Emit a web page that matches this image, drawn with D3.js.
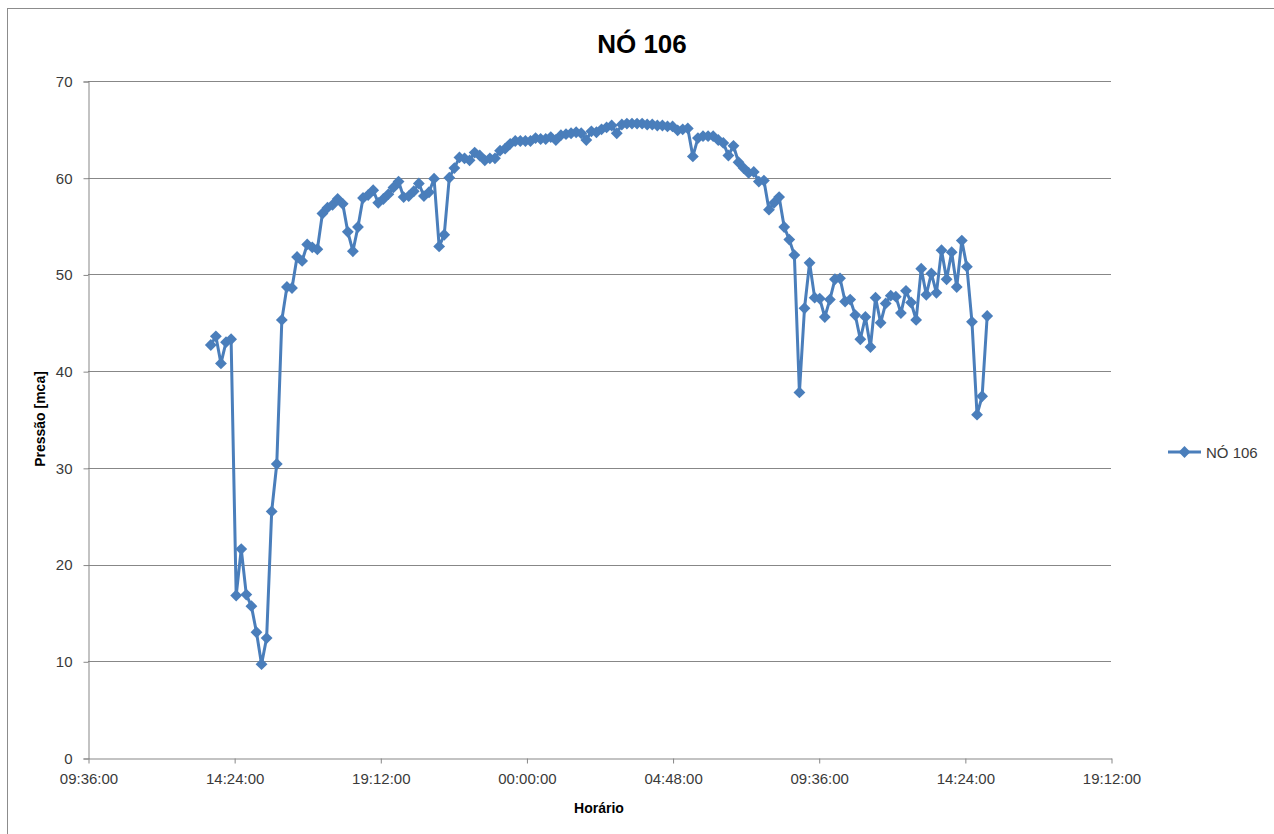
<!DOCTYPE html>
<html>
<head>
<meta charset="utf-8">
<script src="https://cdn.jsdelivr.net/npm/d3@7"></script>
<style>
  html, body { margin: 0; padding: 0; background: #ffffff; }
  svg { display: block; }
  text { font-family: "Liberation Sans", Arial, sans-serif; }
</style>
</head>
<body>
<svg id="chart" width="1274" height="834"></svg>
<script>
// Pressure log for node 106 (one reading every 10 minutes)
const seriesName = "NÓ 106";
const firstReading = "2013-01-01T13:38:00";
const readingStepMinutes = 10;
const pressure = [
  42.7, 43.6, 40.8, 43.0, 43.3, 16.8, 21.6, 16.9, 15.7, 13.0,
  9.7, 12.4, 25.5, 30.4, 45.3, 48.7, 48.6, 51.8, 51.4, 53.1,
  52.8, 52.6, 56.3, 56.9, 57.2, 57.8, 57.3, 54.4, 52.4, 54.9,
  57.9, 58.2, 58.7, 57.4, 57.8, 58.3, 59.0, 59.6, 58.0, 58.1,
  58.6, 59.4, 58.1, 58.5, 59.9, 52.9, 54.1, 60.0, 61.0, 62.1,
  62.0, 61.8, 62.6, 62.3, 61.8, 62.0, 62.0, 62.8, 63.0, 63.5,
  63.8, 63.8, 63.8, 63.8, 64.1, 64.0, 64.0, 64.2, 63.9, 64.4,
  64.5, 64.6, 64.7, 64.6, 63.9, 64.8, 64.7, 65.0, 65.2, 65.4,
  64.6, 65.5, 65.6, 65.6, 65.6, 65.6, 65.5, 65.5, 65.4, 65.4,
  65.3, 65.3, 64.9, 65.0, 65.1, 62.2, 64.1, 64.3, 64.3, 64.3,
  63.9, 63.6, 62.3, 63.3, 61.6, 61.0, 60.5, 60.6, 59.6, 59.7,
  56.7, 57.4, 58.0, 54.9, 53.6, 52.0, 37.8, 46.5, 51.2, 47.6,
  47.5, 45.6, 47.4, 49.5, 49.6, 47.2, 47.4, 45.8, 43.3, 45.6,
  42.5, 47.6, 45.0, 47.0, 47.8, 47.7, 46.0, 48.3, 47.1, 45.3,
  50.6, 47.9, 50.1, 48.1, 52.5, 49.5, 52.3, 48.7, 53.5, 50.8,
  45.1, 35.5, 37.4, 45.7
];

// Axis settings
const xStart = "2013-01-01T09:36:00";
const xEnd = "2013-01-02T19:12:00";
const xTickStepMinutes = 288;
const yTicks = [0, 10, 20, 30, 40, 50, 60, 70];

const chartTitle = "NÓ 106";
const xTitle = "Horário";
const yTitle = "Pressão [mca]";

const blue = "#4a7ebb";
const gridColor = "#878787";
const labelColor = "#3a3a3a";

const t0 = new Date(firstReading);
const readings = pressure.map((v, i) => ({
  time: d3.timeMinute.offset(t0, i * readingStepMinutes),
  value: v
}));

const svg = d3.select("#chart");
const plot = { left: 88, right: 1111, top: 81, bottom: 758 };

const x = d3.scaleTime()
  .domain([new Date(xStart), new Date(xEnd)])
  .range([plot.left, plot.right]);
const y = d3.scaleLinear()
  .domain([0, 70])
  .range([plot.bottom, plot.top]);

const xTickValues = d3.range(0, 8).map(k =>
  d3.timeMinute.offset(new Date(xStart), k * xTickStepMinutes));

// outer chart frame
svg.append("rect")
  .attr("x", 7.5).attr("y", 8.5)
  .attr("width", 1300).attr("height", 900)
  .attr("fill", "#ffffff")
  .attr("stroke", "#8c8c8c").attr("stroke-width", 1);

// horizontal gridlines
svg.append("g")
  .selectAll("line")
  .data(yTicks.filter(d => d > 0))
  .join("line")
  .attr("x1", plot.left).attr("x2", plot.right)
  .attr("y1", d => Math.round(y(d)) + 0.5)
  .attr("y2", d => Math.round(y(d)) + 0.5)
  .attr("stroke", gridColor).attr("stroke-width", 1);

// y axis
const yAxis = svg.append("g")
  .attr("transform", `translate(${plot.left + 0.5},0.5)`)
  .call(d3.axisLeft(y).tickValues(yTicks).tickSize(5).tickPadding(11)
    .tickFormat(d3.format("d")));
yAxis.select(".domain").attr("stroke", gridColor);
yAxis.selectAll(".tick line").attr("stroke", gridColor);
yAxis.selectAll(".tick text")
  .attr("fill", labelColor)
  .style("font-size", "15px");

// x axis
const xAxis = svg.append("g")
  .attr("transform", `translate(0.5,${plot.bottom + 0.5})`)
  .call(d3.axisBottom(x).tickValues(xTickValues).tickSize(5).tickPadding(10)
    .tickSizeOuter(0)
    .tickFormat(d3.timeFormat("%H:%M:%S")));
xAxis.select(".domain").attr("stroke", gridColor);
xAxis.selectAll(".tick line").attr("stroke", gridColor);
xAxis.selectAll(".tick text")
  .attr("fill", labelColor)
  .style("font-size", "15px");

// series line
const line = d3.line()
  .x(d => x(d.time))
  .y(d => y(d.value));

svg.append("path")
  .datum(readings)
  .attr("d", line)
  .attr("fill", "none")
  .attr("stroke", blue)
  .attr("stroke-width", 3)
  .attr("stroke-linejoin", "round");

// diamond markers
const diamond = d3.symbol().type(d3.symbolSquare).size(70);
svg.append("g")
  .selectAll("path")
  .data(readings)
  .join("path")
  .attr("d", diamond)
  .attr("transform", d => `translate(${x(d.time)},${y(d.value)}) rotate(45)`)
  .attr("fill", blue);

// title
svg.append("text")
  .attr("x", 642).attr("y", 53)
  .attr("text-anchor", "middle")
  .style("font-size", "26px").style("font-weight", "bold")
  .attr("fill", "#000000")
  .text(chartTitle);

// axis titles
svg.append("text")
  .attr("x", 599).attr("y", 813)
  .attr("text-anchor", "middle")
  .style("font-size", "14px").style("font-weight", "bold")
  .attr("fill", "#000000")
  .text(xTitle);

svg.append("text")
  .attr("transform", "translate(45,419) rotate(-90)")
  .attr("text-anchor", "middle")
  .style("font-size", "14px").style("font-weight", "bold")
  .attr("fill", "#000000")
  .text(yTitle);

// legend
const legend = svg.append("g").attr("transform", "translate(1168,452)");
legend.append("line")
  .attr("x1", 0).attr("x2", 33).attr("y1", 0).attr("y2", 0)
  .attr("stroke", blue).attr("stroke-width", 3);
legend.append("path")
  .attr("d", diamond)
  .attr("transform", "translate(16.5,0) rotate(45)")
  .attr("fill", blue);
legend.append("text")
  .attr("x", 38).attr("y", 5.5)
  .style("font-size", "15px")
  .attr("fill", labelColor)
  .text(seriesName);
</script>
</body>
</html>
